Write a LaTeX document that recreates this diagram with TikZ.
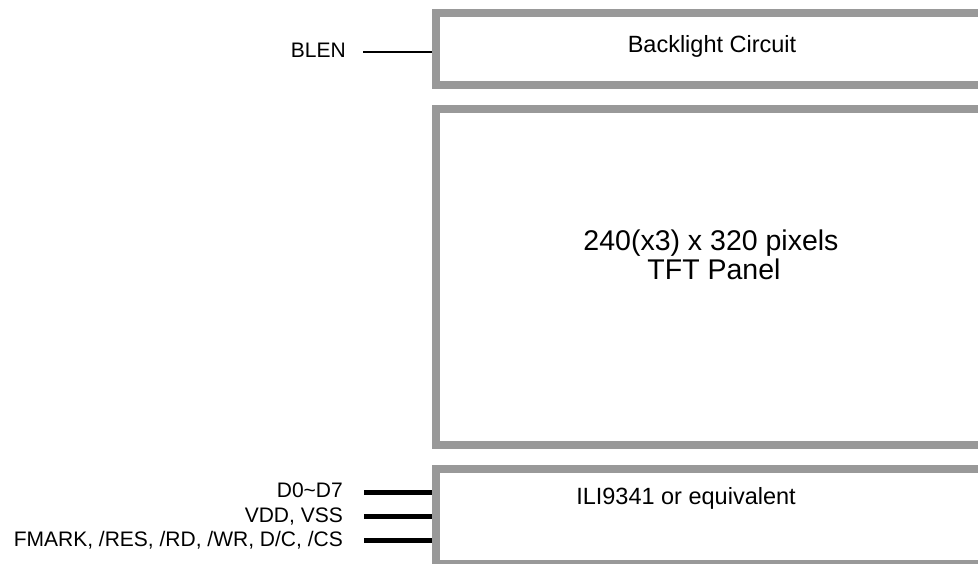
\documentclass[tikz,border=0pt]{standalone}
\usepackage{fontspec}
\setmainfont{Liberation Sans}
\usepackage{tikz}
\definecolor{LCDFrame}{HTML}{999999}
\definecolor{LCDWire}{HTML}{000000}

\begin{document}
\begin{tikzpicture}[x=1pt,y=-1pt,
  frame/.style={draw=LCDFrame,line width=8pt,inner sep=0pt,outer sep=4pt,minimum width=574pt},
  pin/.style={anchor=base east,inner sep=0pt,font=\fontsize{21}{25}\selectfont},
  bus/.style={LCDWire,line width=5pt}]
\path[use as bounding box] (0,0) rectangle (978,564);
% open frames, they run off the right edge
\node[frame,minimum height=72pt] (backlight) at (723,49) {};
\node[frame,minimum height=336pt] (panel) at (723,277) {};
\node[frame,minimum height=95pt] (driver) at (723,516.5) {};
\node[anchor=base,font=\fontsize{23.5}{28}\selectfont] (blname) at (712,53) {Backlight Circuit};
\node[anchor=base,font=\fontsize{28.5}{29}\selectfont] (tftsize) at (711,251) {240(x3) x 320 pixels};
\node[anchor=base,font=\fontsize{28.5}{29}\selectfont] (tftname) at (714,280) {TFT Panel};
\node[anchor=base,font=\fontsize{23.5}{28}\selectfont] (drvname) at (686,504) {ILI9341 or equivalent};
% signals
\node[pin] (blen) at (346,58) {BLEN};
\node[pin] (data) at (343,497) {D0\textasciitilde D7};
\node[pin] (power) at (343,522.5) {VDD, VSS};
\node[pin] (ctrl) at (343,546) {FMARK, /RES, /RD, /WR, D/C, /CS};
\coordinate (blenw) at (363,52);
\coordinate (dataw) at (364,492);
\coordinate (powerw) at (364,516);
\coordinate (ctrlw) at (364,540);
\draw[LCDWire,line width=1.2pt] (blenw) -- (blenw -| backlight.west);
\draw[bus] (dataw) -- (dataw -| driver.west);
\draw[bus] (powerw) -- (powerw -| driver.west);
\draw[bus] (ctrlw) -- (ctrlw -| driver.west);
\end{tikzpicture}
\end{document}
